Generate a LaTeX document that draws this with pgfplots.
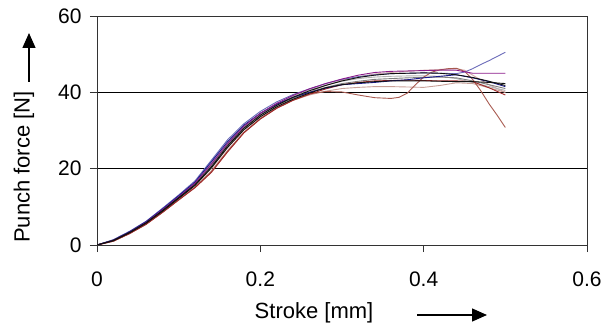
\documentclass[border=0pt]{standalone}
\usepackage{fontspec}
\setmainfont{Liberation Sans}
\usepackage{pgfplots}
\pgfplotsset{compat=1.18}
\usetikzlibrary{arrows.meta}
\definecolor{cblack}{HTML}{101010}
\definecolor{cgray}{HTML}{808080}
\definecolor{clgray}{HTML}{B0B0B0}
\definecolor{cnavy}{HTML}{1A1A8C}
\definecolor{cslate}{HTML}{6A6AB8}
\definecolor{cpurple}{HTML}{8A1A8A}
\definecolor{cdred}{HTML}{A02828}
\definecolor{cbrown}{HTML}{A85A50}
\definecolor{crosy}{HTML}{C8A098}
\definecolor{cpink}{HTML}{D4AAAA}
\begin{document}
\begin{tikzpicture}
\useasboundingbox (-97bp,-82bp) rectangle (510bp,245bp);
\begin{axis}[
  at={(0,0)}, anchor=south west,
  width=490bp, height=229bp, scale only axis,
  xmin=0, xmax=0.6, ymin=0, ymax=60,
  xtick={0,0.2,0.4,0.6}, ytick={0,20,40,60},
  ymajorgrids, grid style={black, line width=0.8bp},
  axis line style={line width=0.9bp, black!80},
  tick align=outside, major tick length=7bp,
  xtick pos=bottom, ytick pos=left,
  tick style={black!80, line width=0.9bp},
  tick label style={font=\fontsize{21bp}{24bp}\selectfont},
  /pgf/number format/assume math mode=true,
  xticklabel style={yshift=-16bp},
  yticklabel style={xshift=-5bp},
  every axis plot/.append style={line width=0.9bp},
]
% light pink upper
\addplot[cpink] coordinates {(0,0) (0.02,1.2) (0.04,3.2) (0.06,5.6) (0.08,8.8) (0.10,12.2) (0.12,15.6) (0.14,20.0) (0.16,25.5) (0.18,30.2) (0.20,33.6) (0.22,36.3) (0.24,38.4) (0.26,40.1) (0.28,41.8) (0.30,43.2) (0.32,44.1) (0.34,44.8) (0.36,45.2) (0.38,45.5) (0.40,45.8) (0.42,46.0) (0.44,46.2) (0.45,45.8) (0.46,44.5) (0.48,42.0) (0.50,40.0)};
% light rosy lower
\addplot[crosy] coordinates {(0,0) (0.02,1.0) (0.04,3.0) (0.06,5.5) (0.08,8.6) (0.10,11.9) (0.12,15.2) (0.14,19.4) (0.16,24.8) (0.18,29.6) (0.20,33.2) (0.22,35.9) (0.24,37.9) (0.26,39.3) (0.28,40.3) (0.30,41.0) (0.32,41.3) (0.34,41.5) (0.36,41.5) (0.38,41.4) (0.40,41.3) (0.42,41.8) (0.44,42.5) (0.46,42.3) (0.48,41.2) (0.50,40.0)};
% light gray
\addplot[clgray] coordinates {(0,0) (0.02,1.3) (0.04,3.4) (0.06,6.0) (0.08,9.3) (0.10,12.8) (0.12,16.3) (0.14,21.4) (0.16,26.8) (0.18,31.2) (0.20,34.5) (0.22,37.0) (0.24,39.0) (0.26,40.6) (0.28,41.9) (0.30,42.9) (0.32,43.6) (0.34,44.0) (0.36,44.2) (0.38,44.3) (0.40,44.3) (0.42,44.2) (0.44,43.6) (0.46,42.6) (0.48,41.5) (0.50,40.5)};
% gray
\addplot[cgray] coordinates {(0,0) (0.02,1.2) (0.04,3.3) (0.06,5.8) (0.08,9.1) (0.10,12.5) (0.12,16.0) (0.14,20.9) (0.16,26.3) (0.18,30.8) (0.20,34.1) (0.22,36.6) (0.24,38.5) (0.26,40.0) (0.28,41.3) (0.30,42.3) (0.32,42.9) (0.34,43.4) (0.36,43.6) (0.38,43.8) (0.40,43.9) (0.42,44.0) (0.44,43.8) (0.46,43.0) (0.48,42.0) (0.50,41.0)};
% brown, dropping
\addplot[cbrown] coordinates {(0,0) (0.02,1.0) (0.04,3.0) (0.06,5.4) (0.08,8.5) (0.10,11.8) (0.12,15.1) (0.14,19.2) (0.16,24.6) (0.18,29.5) (0.20,33.1) (0.22,35.9) (0.24,38.0) (0.26,39.6) (0.28,40.2) (0.30,40.1) (0.32,39.3) (0.34,38.6) (0.36,38.4) (0.37,38.7) (0.38,39.8) (0.39,42.0) (0.40,44.0) (0.41,45.3) (0.42,45.9) (0.43,46.2) (0.44,46.3) (0.45,45.5) (0.46,43.4) (0.47,40.4) (0.48,37.0) (0.49,34.0) (0.50,30.8)};
% dark red
\addplot[cdred] coordinates {(0,0) (0.02,1.0) (0.04,3.0) (0.06,5.4) (0.08,8.5) (0.10,11.8) (0.12,15.0) (0.14,19.0) (0.16,24.4) (0.18,29.4) (0.20,33.0) (0.22,35.8) (0.24,37.9) (0.26,39.5) (0.28,40.9) (0.30,42.0) (0.32,42.6) (0.34,43.0) (0.36,43.1) (0.38,43.2) (0.40,43.1) (0.42,43.0) (0.44,43.0) (0.46,42.8) (0.48,41.2) (0.50,39.3)};
% slate blue, rising at end
\addplot[cslate] coordinates {(0,0) (0.02,1.4) (0.04,3.6) (0.06,6.2) (0.08,9.6) (0.10,13.1) (0.12,16.8) (0.14,22.2) (0.16,27.6) (0.18,31.8) (0.20,35.0) (0.22,37.5) (0.24,39.4) (0.26,40.9) (0.28,42.3) (0.30,43.4) (0.32,44.1) (0.34,44.6) (0.36,44.9) (0.38,45.0) (0.40,45.1) (0.42,45.0) (0.44,44.9) (0.45,45.3) (0.46,46.2) (0.47,47.3) (0.48,48.3) (0.49,49.4) (0.50,50.5)};
% navy
\addplot[cnavy] coordinates {(0,0) (0.02,1.3) (0.04,3.5) (0.06,6.1) (0.08,9.4) (0.10,12.9) (0.12,16.5) (0.14,21.8) (0.16,27.1) (0.18,31.4) (0.20,34.5) (0.22,36.9) (0.24,38.7) (0.26,40.0) (0.28,41.1) (0.30,42.0) (0.32,42.3) (0.34,42.6) (0.36,43.0) (0.38,43.3) (0.40,43.8) (0.42,44.2) (0.44,44.6) (0.46,43.8) (0.48,42.8) (0.50,41.5)};
% purple
\addplot[cpurple] coordinates {(0,0) (0.02,1.2) (0.04,3.3) (0.06,5.9) (0.08,9.2) (0.10,12.6) (0.12,16.2) (0.14,21.2) (0.16,26.6) (0.18,31.1) (0.20,34.5) (0.22,37.1) (0.24,39.2) (0.26,40.9) (0.28,42.3) (0.30,43.5) (0.32,44.5) (0.34,45.2) (0.36,45.5) (0.38,45.6) (0.40,45.7) (0.42,45.8) (0.44,45.8) (0.46,45.0) (0.48,45.0) (0.50,45.0)};
% black lower plateau
\addplot[cblack] coordinates {(0,0) (0.02,1.1) (0.04,3.2) (0.06,5.7) (0.08,8.8) (0.10,12.2) (0.12,15.6) (0.14,20.2) (0.16,25.6) (0.18,30.2) (0.20,33.6) (0.22,36.2) (0.24,38.2) (0.26,39.8) (0.28,41.2) (0.30,42.0) (0.32,42.5) (0.34,42.8) (0.36,43.0) (0.38,43.0) (0.40,43.0) (0.42,42.9) (0.44,42.8) (0.46,42.8) (0.48,42.6) (0.50,42.3)};
% black main
\addplot[cblack] coordinates {(0,0) (0.02,1.2) (0.04,3.3) (0.06,5.8) (0.08,9.0) (0.10,12.4) (0.12,15.8) (0.14,20.5) (0.16,26.0) (0.18,30.6) (0.20,34.0) (0.22,36.6) (0.24,38.7) (0.26,40.4) (0.28,41.8) (0.30,43.0) (0.32,43.9) (0.34,44.5) (0.36,44.9) (0.38,45.0) (0.40,45.1) (0.42,45.0) (0.44,44.6) (0.46,43.9) (0.48,42.9) (0.50,41.8)};
\end{axis}
\node[rotate=90, font=\fontsize{22bp}{24bp}\selectfont] at (-73bp,78bp) {Punch force [N]};
\draw[line width=1.4bp, -{Triangle[length=15bp,width=13bp]}] (-68bp,163bp) -- (-68bp,212bp);
\node[font=\fontsize{22bp}{24bp}\selectfont] at (217bp,-68bp) {Stroke [mm]};
\draw[line width=1.4bp, -{Triangle[length=15bp,width=13bp]}] (320bp,-70bp) -- (390bp,-70bp);
\end{tikzpicture}
\end{document}
